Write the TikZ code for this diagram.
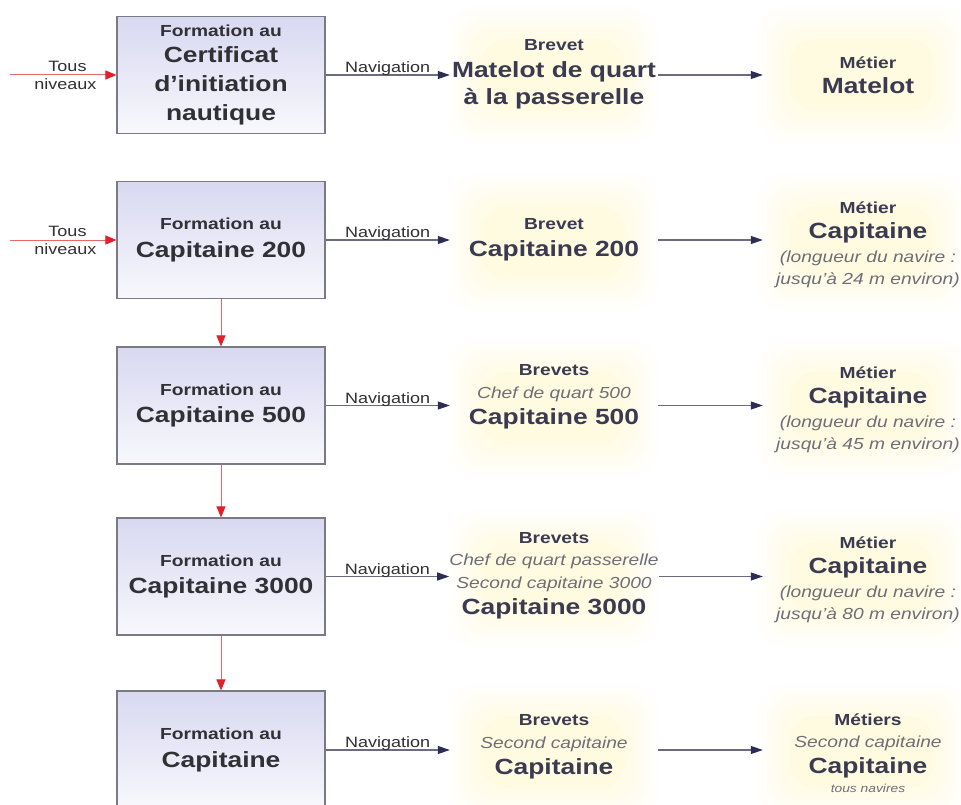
\documentclass[tikz,border=0pt]{standalone}
\usepackage{fontspec}
\setmainfont[FakeStretch=1.2]{Liberation Sans}
\usetikzlibrary{arrows.meta}
\definecolor{boxtop}{HTML}{D8D8F1}
\definecolor{boxbot}{HTML}{F8F8FD}
\definecolor{boxdraw}{HTML}{7A7A82}
\definecolor{txt}{HTML}{303035}
\definecolor{navy}{HTML}{2B2D55}
\definecolor{navline}{HTML}{6A6B7E}
\definecolor{btxt}{HTML}{3A3B52}
\definecolor{itxt}{HTML}{6E6E78}
\definecolor{redarr}{HTML}{E0202A}
\definecolor{redline}{HTML}{E46868}
\definecolor{glowc}{HTML}{FFF8CC}
\newcommand{\hdA}[1]{{\fontsize{16}{22.5}\selectfont\bfseries #1}}
\newcommand{\bgA}[1]{{\fontsize{22}{22.5}\selectfont\bfseries #1}}
\newcommand{\itA}[1]{{\fontsize{16}{22.5}\selectfont\itshape\color{itxt}#1}}
\newcommand{\smA}[1]{{\fontsize{11.5}{22.5}\selectfont\itshape\color{itxt}#1}}
\newcommand{\glowat}[2]{%
  \foreach \d [count=\k] in {0,4,...,36}{%
    \pgfmathtruncatemacro{\pc}{6*\k}%
    \fill[glowc!\pc!white,rounded corners=26pt] ({#1-104+\d},{#2-68+\d}) rectangle ({#1+104-\d},{#2+68-\d});}}
\begin{document}
\begin{tikzpicture}[x=1pt,y=-1pt,
  formbox/.style={draw=boxdraw, line width=1.1pt, top color=boxtop, bottom color=boxbot,
    minimum width=208pt, minimum height=117pt, inner sep=0pt, align=center, text=txt,
    font=\fontsize{16}{22.5}\selectfont},
  brev/.style={minimum width=208pt, inner sep=0pt, align=center, text=btxt,
    font=\fontsize{16}{22.5}\selectfont},
  metier/.style={minimum width=210pt, inner sep=0pt, align=center, text=btxt,
    font=\fontsize{16}{22.5}\selectfont},
  navarr/.style={draw=navline, line width=1.1pt, -{Triangle[length=12pt,width=8pt,color=navy]}},
  redarrow/.style={draw=redline, line width=1pt, -{Triangle[length=11pt,width=9pt,color=redarr]}},
  lbl/.style={font=\fontsize{15}{17}\selectfont, text=txt, inner sep=1pt}]
\useasboundingbox (0,0) rectangle (961,805);
\clip (0,0) rectangle (961,805);
\fill[white] (0,0) rectangle (961,805);
% glows
\foreach \r in {75,242,408,578,752}{\glowat{553}{\r}\glowat{862}{\r}}
% formation boxes
\node[formbox] (f1) at (221,75) {\hdA{Formation au}\\[3pt]\bgA{Certificat}\\[6.5pt]\bgA{d'initiation}\\[6.5pt]\bgA{nautique}};
\node[formbox] (f2) at (221,240) {\hdA{Formation au}\\[5pt]\bgA{Capitaine 200}};
\node[formbox] (f3) at (221,405.5) {\hdA{Formation au}\\[5pt]\bgA{Capitaine 500}};
\node[formbox] (f4) at (221,576.5) {\hdA{Formation au}\\[5pt]\bgA{Capitaine 3000}};
\node[formbox, minimum height=118pt] (f5) at (221,750) {\hdA{Formation au}\\[5pt]\bgA{Capitaine}};
% brevets
\node[brev] (b1) at (554,74) {\hdA{Brevet}\\[4.5pt]\bgA{Matelot de quart}\\[4.5pt]\bgA{à la passerelle}};
\node[brev] (b2) at (554,240) {\hdA{Brevet}\\[4.5pt]\bgA{Capitaine 200}};
\node[brev] (b3) at (554,397) {\hdA{Brevets}\\\itA{Chef de quart 500}\\[4pt]\bgA{Capitaine 500}};
\node[brev] (b4) at (554,576) {\hdA{Brevets}\\\itA{Chef de quart passerelle}\\\itA{Second capitaine 3000}\\[4pt]\bgA{Capitaine 3000}};
\node[brev] (b5) at (554,747) {\hdA{Brevets}\\\itA{Second capitaine}\\[4pt]\bgA{Capitaine}};
% metiers
\node[metier] (m1) at (868,75) {\hdA{Métier}\\[3pt]\bgA{Matelot}};
\node[metier] (m2) at (868,245) {\hdA{Métier}\\[3pt]\bgA{Capitaine}\\[1pt]\itA{(longueur du navire :}\\\itA{jusqu'à 24 m environ)}};
\node[metier] (m3) at (868,410) {\hdA{Métier}\\[3pt]\bgA{Capitaine}\\[1pt]\itA{(longueur du navire :}\\\itA{jusqu'à 45 m environ)}};
\node[metier] (m4) at (868,580) {\hdA{Métier}\\[3pt]\bgA{Capitaine}\\[1pt]\itA{(longueur du navire :}\\\itA{jusqu'à 80 m environ)}};
\node[metier] (m5) at (868,753) {\hdA{Métiers}\\\itA{Second capitaine}\\[3pt]\bgA{Capitaine}\\[-3pt]\smA{tous navires}};
% entry arrows
\coordinate (t1) at (10,75);
\coordinate (t2) at (10,240);
\draw[redarrow] (t1) -- (t1 -| f1.west) node[lbl, pos=0.54, above, inner sep=3pt] {Tous} node[lbl, pos=0.52, below, inner sep=3pt] {niveaux};
\draw[redarrow] (t2) -- (t2 -| f2.west) node[lbl, pos=0.54, above, inner sep=3pt] {Tous} node[lbl, pos=0.52, below, inner sep=3pt] {niveaux};
% down arrows
\draw[redarrow] (f2.south) -- (f3.north);
\draw[redarrow] (f3.south) -- (f4.north);
\draw[redarrow] (f4.south) -- (f5.north);
% navigation arrows
\foreach \i in {1,...,5}{
  \draw[navarr] (f\i.east) -- (f\i.east -| b\i.west) node[lbl, midway, above, inner sep=0pt, yshift=-1.5pt] {Navigation};
  \draw[navarr] (f\i.east -| b\i.east) -- (f\i.east -| m\i.west);
}
\end{tikzpicture}
\end{document}
